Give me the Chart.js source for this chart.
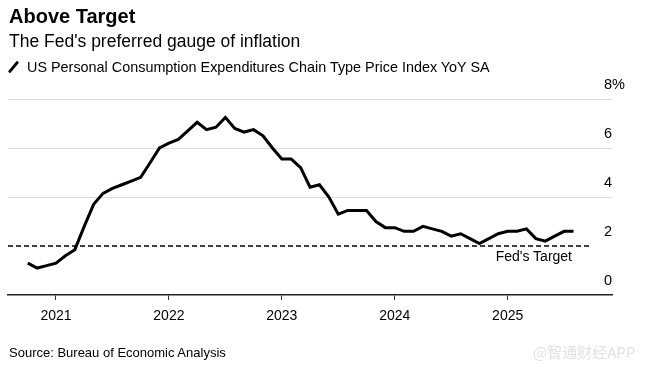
<!DOCTYPE html>
<html>
<head>
<meta charset="utf-8">
<script src="https://cdn.jsdelivr.net/npm/chart.js@4"></script>
<style>
  html, body { margin: 0; padding: 0; background: #fff; }
  #wrap { position: relative; width: 653px; height: 375px; overflow: hidden; font-family: "Liberation Sans", Arial, sans-serif; color: #000; }
  #chartBox { position: absolute; left: 0; top: 0; width: 653px; height: 375px; }
  .txt { position: absolute; white-space: nowrap; line-height: 1; }
  #title { left: 9px; top: 6px; font-size: 20px; font-weight: bold; }
  #subtitle { left: 9px; top: 33px; font-size: 17.5px; }
  #legend { left: 8px; top: 60px; font-size: 14.4px; }
  #legend .icon { display: inline-block; width: 10px; height: 12px; vertical-align: -1px; margin-right: 9px; position: relative; }
  #legend .icon::after { content: ""; position: absolute; left: 4px; top: -1px; width: 3px; height: 14px; background: #000; transform: rotate(40deg); border-radius: 1px; }
  #fedLabel { right: 81px; top: 249px; font-size: 14px; }
  #source { left: 9px; top: 346px; font-size: 13px; }
  #watermark { left: 533px; top: 344px; font-size: 15px; color: #e2e2e2; font-family: "Noto Sans CJK SC", "Liberation Sans", sans-serif; }
</style>
</head>
<body>
<div id="wrap">
  <div id="chartBox"><canvas id="c" width="653" height="375"></canvas></div>
  <div class="txt" id="title">Above Target</div>
  <div class="txt" id="subtitle">The Fed's preferred gauge of inflation</div>
  <div class="txt" id="legend"><span class="icon"></span>US Personal Consumption Expenditures Chain Type Price Index YoY SA</div>
  <div class="txt" id="fedLabel">Fed's Target</div>
  <div class="txt" id="source">Source: Bureau of Economic Analysis</div>
  <div class="txt" id="watermark">@智通财经APP</div>
</div>
<script>
// ---- data ----
const months = [
  "2020-09","2020-10","2020-11","2020-12",
  "2021-01","2021-02","2021-03","2021-04","2021-05","2021-06","2021-07","2021-08","2021-09","2021-10","2021-11","2021-12",
  "2022-01","2022-02","2022-03","2022-04","2022-05","2022-06","2022-07","2022-08","2022-09","2022-10","2022-11","2022-12",
  "2023-01","2023-02","2023-03","2023-04","2023-05","2023-06","2023-07","2023-08","2023-09","2023-10","2023-11","2023-12",
  "2024-01","2024-02","2024-03","2024-04","2024-05","2024-06","2024-07","2024-08","2024-09","2024-10","2024-11","2024-12",
  "2025-01","2025-02","2025-03","2025-04","2025-05","2025-06","2025-07"
];
const pceYoY = [
  1.3, 1.1, 1.2, 1.3,
  1.6, 1.85, 2.8, 3.7, 4.15, 4.35, 4.5, 4.65, 4.8, 5.4, 6.0, 6.2,
  6.35, 6.7, 7.05, 6.75, 6.85, 7.25, 6.8, 6.65, 6.75, 6.5, 6.0, 5.55,
  5.55, 5.2, 4.4, 4.5, 4.0, 3.3, 3.45, 3.45, 3.45, 3.0, 2.75, 2.75,
  2.6, 2.6, 2.8, 2.7, 2.6, 2.4, 2.5, 2.3, 2.1, 2.3, 2.5, 2.6,
  2.6, 2.7, 2.3, 2.2, 2.4, 2.6, 2.6
];
const fedTarget = 2;
const yearTicks = [2021, 2022, 2023, 2024, 2025];
const yTicks = [0, 2, 4, 6, 8];
const xRange = [2020.575, 2025.924];
const targetLineEnd = 2025.73;

// month label -> decimal year at month end
function monthEnd(m) {
  const [y, mo] = m.split("-").map(Number);
  return y + mo / 12;
}
const seriesPoints = months.map((m, i) => ({ x: monthEnd(m), y: pceYoY[i] }));
const targetPoints = [{ x: xRange[0], y: fedTarget }, { x: targetLineEnd, y: fedTarget }];

new Chart(document.getElementById("c"), {
  type: "line",
  data: {
    datasets: [
      {
        label: "Fed's Target",
        data: targetPoints,
        borderColor: "#000",
        borderWidth: 1.5,
        borderDash: [5, 3],
        pointRadius: 0,
        tension: 0
      },
      {
        label: "US Personal Consumption Expenditures Chain Type Price Index YoY SA",
        data: seriesPoints,
        borderColor: "#000",
        borderWidth: 3,
        pointRadius: 0,
        tension: 0,
        borderJoinStyle: "miter",
        borderCapStyle: "butt"
      }
    ]
  },
  options: {
    responsive: false,
    animation: false,
    devicePixelRatio: 1,
    layout: { padding: { left: 8, top: 99, right: 0, bottom: 40 } },
    plugins: { legend: { display: false }, tooltip: { enabled: false }, title: { display: false } },
    scales: {
      x: {
        type: "linear",
        min: xRange[0],
        max: xRange[1],
        afterBuildTicks: (s) => { s.ticks = yearTicks.map(v => ({ value: v })); },
        afterFit: (s) => { s.height = 40; },
        ticks: {
          color: "#000",
          font: { family: "'Liberation Sans', Arial, sans-serif", size: 14 },
          padding: 8,
          maxRotation: 0,
          autoSkip: false,
          callback: (v) => String(v)
        },
        grid: { drawOnChartArea: false, drawTicks: true, tickLength: 5, color: "#333", lineWidth: 1 },
        border: { display: true, color: "#222", width: 1.5 }
      },
      y: {
        position: "right",
        min: 0,
        max: 8,
        afterBuildTicks: (s) => { s.ticks = yTicks.map(v => ({ value: v })); },
        afterFit: (s) => { s.width = 41; s._computeLabelArea = () => undefined; },
        ticks: {
          color: "#000",
          font: { family: "'Liberation Sans', Arial, sans-serif", size: 14.5 },
          padding: -8,
          labelOffset: -14,
          crossAlign: "near",
          callback: (v) => (v === 8 ? "8%" : String(v))
        },
        grid: {
          drawTicks: false,
          color: (ctx) => (ctx.tick && ctx.tick.value >= 4 ? "#dcdcdc" : "rgba(0,0,0,0)"),
          lineWidth: 1
        },
        border: { display: false }
      }
    }
  }
});
</script>
</body>
</html>
